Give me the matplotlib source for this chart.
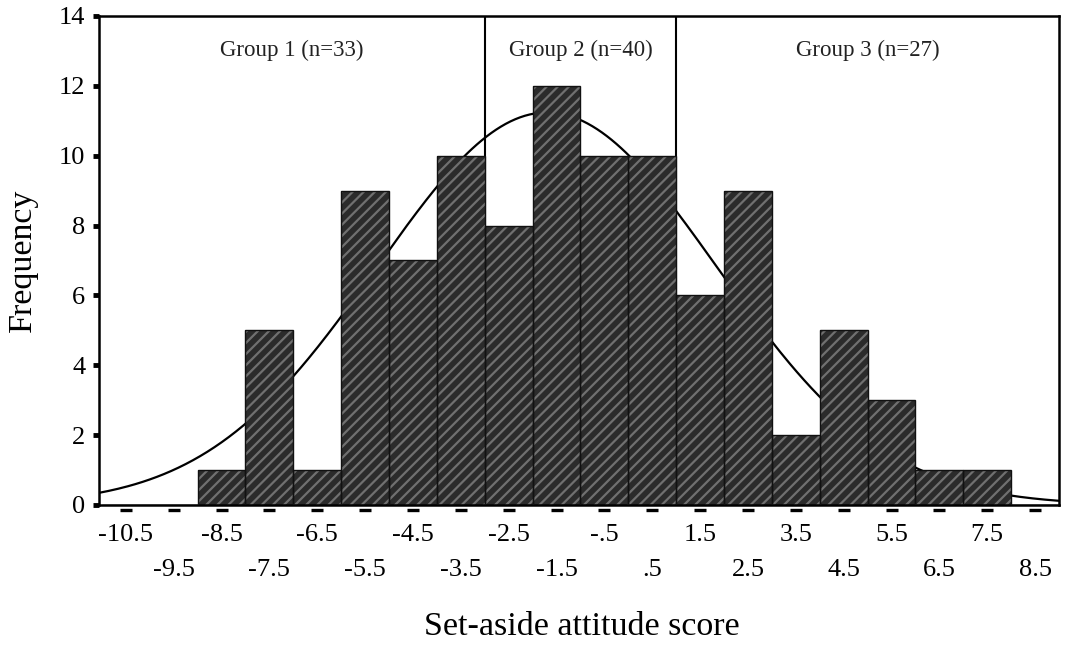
import numpy as np
from matplotlib import pyplot as plt
from matplotlib import transforms

# bin centres and counts
centers = [-10.5, -9.5, -8.5, -7.5, -6.5, -5.5, -4.5, -3.5, -2.5, -1.5,
           -0.5, 0.5, 1.5, 2.5, 3.5, 4.5, 5.5, 6.5, 7.5, 8.5]
counts = [0, 0, 1, 5, 1, 9, 7, 10, 8, 12, 10, 10, 6, 9, 2, 5, 3, 1, 1, 0]
tick_labels = ['-10.5', '-9.5', '-8.5', '-7.5', '-6.5', '-5.5', '-4.5', '-3.5',
               '-2.5', '-1.5', '-.5', '.5', '1.5', '2.5', '3.5', '4.5', '5.5',
               '6.5', '7.5', '8.5']

# fitted normal curve
curve_mean = -1.7
curve_sd = 3.55
n_total = sum(counts)

# group boundaries and labels
group_edges = [-3.0, 1.0]
group_names = ['Group 1 (n=33)', 'Group 2 (n=40)', 'Group 3 (n=27)']
group_x = [-7.03, -1.0, 5.0]

plt.rcParams['font.family'] = ['Liberation Serif', 'DejaVu Serif']
plt.rcParams['hatch.linewidth'] = 1.6

fig = plt.figure(figsize=(10.72, 6.52), dpi=100)
ax = fig.add_axes([0.0924, 0.2255, 0.8955, 0.75])

xlo, xhi = -11.06, 9.0
xs = np.linspace(xlo, xhi, 400)
ys = n_total / (curve_sd * np.sqrt(2 * np.pi)) * np.exp(-(xs - curve_mean) ** 2 / (2 * curve_sd ** 2))
ax.plot(xs, ys, color='k', lw=1.6, zorder=1)

for g in group_edges:
    ax.plot([g, g], [0, 14], color='k', lw=1.5, zorder=1)

ax.bar(centers, counts, width=1.0, color='#2b2b2b', edgecolor='#707070',
       hatch='///', linewidth=0, zorder=2)
ax.bar(centers, counts, width=1.0, facecolor='none', edgecolor='#111111',
       linewidth=1.0, zorder=3)

for name, gx in zip(group_names, group_x):
    ax.text(gx, 13.0, name, ha='center', va='center', fontsize=16.5, color='#222222')

ax.set_xlim(xlo, xhi)
ax.set_ylim(0, 14)
for s in ax.spines.values():
    s.set_linewidth(1.8)

ax.set_yticks(range(0, 15, 2))
ax.tick_params(axis='y', direction='out', length=4, width=3.5, pad=6, labelsize=19)

ax.set_xticks(centers[0::2])
ax.set_xticklabels(tick_labels[0::2])
ax.set_xticks(centers[1::2], minor=True)
ax.set_xticklabels(tick_labels[1::2], minor=True)
ax.tick_params(axis='x', which='major', length=0, pad=14, labelsize=19)
ax.tick_params(axis='x', which='minor', length=0, pad=39, labelsize=19)

# small dashes under the axis at each bin centre
trans = transforms.blended_transform_factory(ax.transData, ax.transAxes)
ax.plot(centers, [-0.0105] * len(centers), ls='none', marker='_', markersize=9,
        markeredgewidth=2.4, color='k', transform=trans, clip_on=False)

fig.text(0.0215, 0.6, 'Frequency', rotation=90, ha='center', va='center', fontsize=24.5)
fig.text(0.543, 1 - 627 / 652, 'Set-aside attitude score', ha='center', va='center', fontsize=24.5)

plt.savefig('out.png', dpi=100)
